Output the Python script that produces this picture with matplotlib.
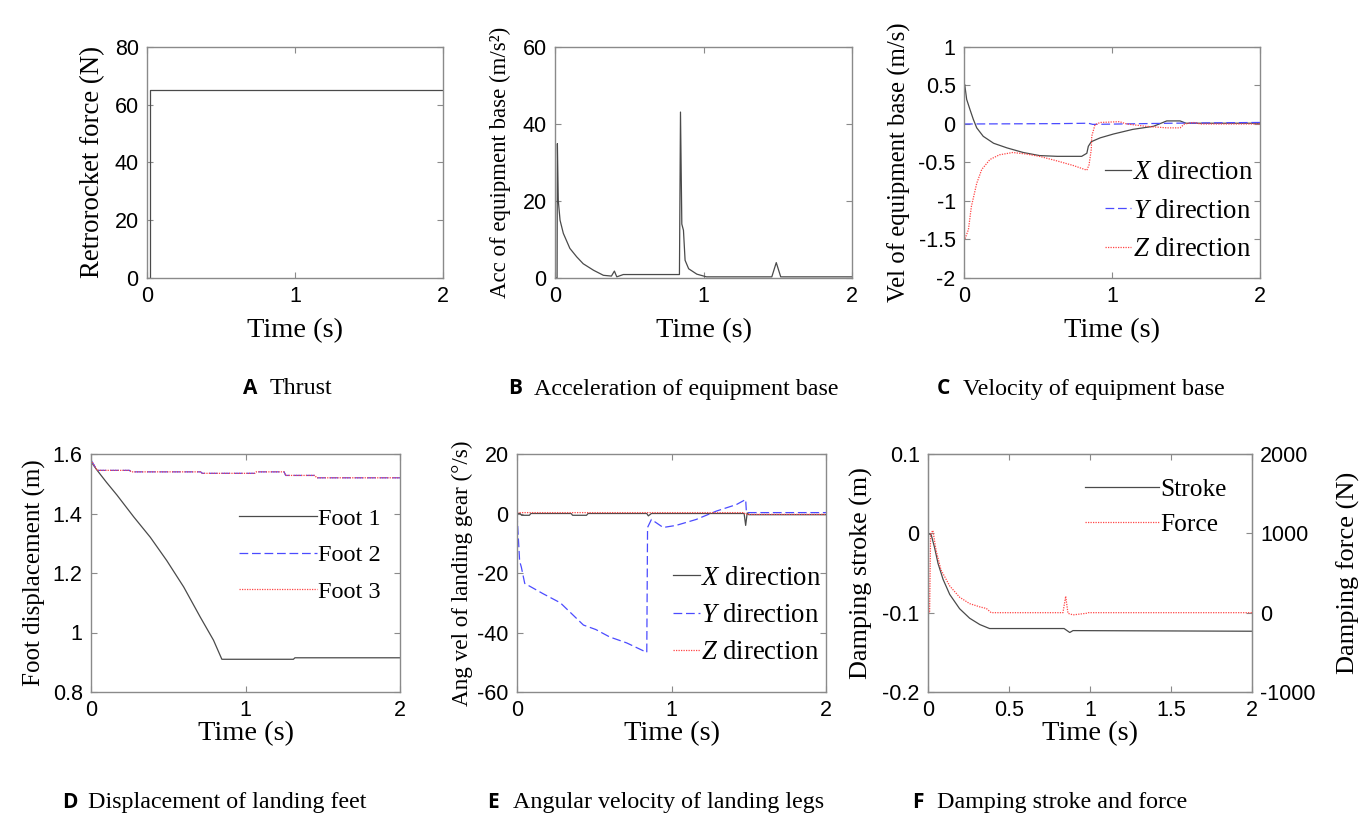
import matplotlib
matplotlib.use("Agg")
import matplotlib.pyplot as plt
from matplotlib.ticker import FuncFormatter

plt.rcParams['font.family'] = 'Liberation Sans'
plt.rcParams['axes.unicode_minus'] = False
plt.rcParams['mathtext.fontset'] = 'custom'
plt.rcParams['mathtext.rm'] = 'Liberation Serif'
plt.rcParams['mathtext.it'] = 'Liberation Serif:italic'

# ---- data ----
# A: thrust
tA = [0, 0.02, 0.02, 2.0]
fA = [0, 0, 65, 65]

# B: acceleration of equipment base
tB = [0, 0.014, 0.016, 0.022, 0.034, 0.056, 0.10, 0.146, 0.19, 0.26, 0.326,
      0.38, 0.40, 0.416, 0.46, 0.838, 0.845, 0.854, 0.865, 0.876, 0.90, 0.955,
      1.02, 1.46, 1.49, 1.52, 2.0]
aB = [0, 0, 34.9, 20.2, 15, 11.6, 7.7, 5.5, 3.7, 2.0, 0.7,
      0.5, 1.8, 0.3, 0.9, 0.9, 43.1, 14, 12.4, 4.6, 2.4, 1.0,
      0.3, 0.3, 4.0, 0.3, 0.3]

# C: velocity of equipment base
tCx = [0.005, 0.018, 0.04, 0.063, 0.086, 0.13, 0.2, 0.29, 0.4, 0.51, 0.63,
       0.795, 0.83, 0.84, 0.86, 0.92, 1.01, 1.14, 1.28, 1.37, 1.46, 1.5, 2.0]
vCx = [0.51, 0.32, 0.19, 0.06, -0.05, -0.16, -0.25, -0.31, -0.37, -0.41, -0.42,
       -0.42, -0.38, -0.29, -0.23, -0.18, -0.13, -0.07, -0.03, 0.04, 0.04, 0.01, 0.01]
tCy = [0, 0.65, 0.84, 0.87, 1.4, 2.0]
vCy = [0, 0.005, 0.01, -0.005, 0.01, 0.02]
tCz = [0.007, 0.03, 0.05, 0.086, 0.12, 0.176, 0.24, 0.33, 0.42, 0.51, 0.63,
       0.74, 0.83, 0.845, 0.86, 0.863, 0.885, 0.92, 1.05, 1.1, 1.23, 1.37,
       1.46, 1.49, 1.55, 1.6, 2.0]
vCz = [-1.49, -1.37, -1.07, -0.77, -0.59, -0.46, -0.40, -0.37, -0.39, -0.42, -0.48,
       -0.54, -0.60, -0.53, -0.33, -0.16, -0.01, 0.02, 0.03, 0.0, -0.03, -0.05,
       -0.05, 0.0, 0.02, 0.0, 0.0]

# D: displacement of landing feet
tD1 = [0, 0.04, 0.1, 0.168, 0.276, 0.384, 0.49, 0.6, 0.707, 0.793, 0.847,
       1.31, 1.32, 2.0]
vD1 = [1.574, 1.545, 1.505, 1.462, 1.389, 1.32, 1.242, 1.153, 1.052, 0.974, 0.91,
       0.91, 0.915, 0.915]
tD2 = [0, 0.04, 0.25, 0.26, 0.71, 0.72, 1.06, 1.07, 1.25, 1.26, 1.45, 1.46, 2.0]
vD2 = [1.58, 1.545, 1.545, 1.54, 1.54, 1.535, 1.535, 1.54, 1.54, 1.528, 1.528, 1.52, 1.52]
vD3 = [1.58, 1.545, 1.545, 1.54, 1.54, 1.535, 1.535, 1.54, 1.54, 1.528, 1.528, 1.52, 1.52]

# E: angular velocity of landing legs
tEx = [0, 0.02, 0.03, 0.08, 0.09, 0.35, 0.36, 0.45, 0.46, 0.84, 0.85, 0.87,
       1.47, 1.48, 1.49, 1.5, 2.0]
vEx = [0, 0, -0.6, -0.6, 0, 0, -0.6, -0.6, 0, 0, -0.8, 0,
       0, -4, 0.2, -0.4, -0.4]
tEy = [0, 0.017, 0.028, 0.05, 0.17, 0.28, 0.38, 0.43, 0.51, 0.6, 0.71, 0.84,
       0.845, 0.87, 0.946, 1.03, 1.16, 1.29, 1.42, 1.48, 1.485, 2.0]
vEy = [0, -16, -18, -23.5, -27, -30, -35, -37.5, -39, -41.5, -43.5, -46.7,
       -4.7, -2, -4.7, -4, -2, 0.8, 3, 4.7, 0.3, 0.3]
tEz = [0, 1.47, 1.48, 2.0]
vEz = [0.3, 0.3, -0.3, -0.3]

# F: damping stroke and force
tFs = [0, 0.02, 0.04, 0.062, 0.093, 0.134, 0.195, 0.257, 0.32, 0.38, 0.84,
       0.875, 0.895, 2.0]
vFs = [0, -0.002, -0.0175, -0.038, -0.058, -0.077, -0.095, -0.107, -0.115, -0.12, -0.12,
       -0.125, -0.1226, -0.1234]
tFf = [0, 0.01, 0.016, 0.03, 0.05, 0.08, 0.134, 0.195, 0.257, 0.32, 0.36, 0.39,
       0.833, 0.85, 0.864, 0.895, 0.977, 0.99, 2.0]
vFf = [0, 0, 990, 1037, 785, 540, 337, 195, 114, 73, 53, 0,
       0, 207, -8, -28, -8, 0, 0]

dir_labels = [r'$X\ \mathrm{direction}$', r'$Y\ \mathrm{direction}$',
              r'$Z\ \mathrm{direction}$']
captions = [("A", "Thrust"), ("B", "Acceleration of equipment base"),
            ("C", "Velocity of equipment base"), ("D", "Displacement of landing feet"),
            ("E", "Angular velocity of landing legs"), ("F", "Damping stroke and force")]

# ---- styling ----
W, H = 1366, 822
BLK = '#4a4a4a'
BLU = '#4b4bff'
RED = '#ff4545'
SPINE = '#8a8a8a'
SERIF = 'Liberation Serif'
XLAB = 20.5
TICK = 15.5
fmt = FuncFormatter(lambda v, p: '%g' % round(v, 6))


def px_axes(fig, l, t, r, b):
    return fig.add_axes([l / W, 1 - b / H, (r - l) / W, (b - t) / H])


def style(ax, ylabel, ysize, xpad, ypad, right=True):
    for s in ax.spines.values():
        s.set_color(SPINE)
        s.set_linewidth(1.0)
    ax.tick_params(direction='in', top=True, right=right, length=4,
                   color=SPINE, labelsize=TICK, pad=6)
    ax.xaxis.set_major_formatter(fmt)
    ax.yaxis.set_major_formatter(fmt)
    ax.set_xlim(0, 2)
    ax.set_xlabel('Time (s)', family=SERIF, fontsize=XLAB, labelpad=xpad)
    ax.set_ylabel(ylabel, family=SERIF, fontsize=ysize, labelpad=ypad)


def legend(ax, handles, x, y, hl, size, sp):
    ax.legend(handles=handles, loc='upper left', bbox_to_anchor=(x, y),
              frameon=False, prop={'family': SERIF, 'size': size},
              handlelength=hl, handletextpad=0.05, labelspacing=sp,
              borderpad=0, borderaxespad=0)


fig = plt.figure(figsize=(13.66, 8.22), dpi=100)

# A
ax = px_axes(fig, 147, 47, 443, 278)
ax.plot(tA, fA, color=BLK, lw=0.9)
ax.set_ylim(0, 80)
ax.set_yticks([0, 20, 40, 60, 80])
ax.set_xticks([0, 1, 2])
style(ax, 'Retrorocket force (N)', 19.4, 8, 6.6)

# B
ax = px_axes(fig, 555, 47, 852, 278)
ax.plot(tB, aB, color=BLK, lw=0.9)
ax.set_ylim(0, 60)
ax.set_yticks([0, 20, 40, 60])
ax.set_xticks([0, 1, 2])
style(ax, 'Acc of equipment base (m/s²)', 16.5, 8, 8)

# C
ax = px_axes(fig, 964, 47, 1260, 278)
hx, = ax.plot(tCx, vCx, color=BLK, lw=0.9, label=dir_labels[0])
hy, = ax.plot(tCy, vCy, color=BLU, lw=0.9, ls=(0, (7, 3)), label=dir_labels[1])
hz, = ax.plot(tCz, vCz, color=RED, lw=0.9, ls=(0, (1, 1)), label=dir_labels[2])
ax.set_ylim(-2, 1)
ax.set_yticks([-2, -1.5, -1, -0.5, 0, 0.5, 1])
ax.set_xticks([0, 1, 2])
style(ax, 'Vel of equipment base (m/s)', 17.8, 8, 5)
legend(ax, [hx, hy, hz], 0.475, 0.51, 1.0, 19.3, 0.5)

# D
ax = px_axes(fig, 91, 454, 400, 692)
h1, = ax.plot(tD1, vD1, color=BLK, lw=0.9, label='Foot 1')
h2, = ax.plot(tD2, vD2, color=BLU, lw=0.9, ls=(0, (7, 3)), label='Foot 2')
h3, = ax.plot(tD2, vD3, color=RED, lw=0.9, ls=(0, (1, 1)), label='Foot 3')
ax.set_ylim(0.8, 1.6)
ax.set_yticks([0.8, 1.0, 1.2, 1.4, 1.6])
ax.set_xticks([0, 1, 2])
style(ax, 'Foot displacement (m)', 18, 0, 5)
legend(ax, [h1, h2, h3], 0.48, 0.775, 3.2, 17.5, 0.6)

# E
ax = px_axes(fig, 517, 454, 826, 692)
hy, = ax.plot(tEy, vEy, color=BLU, lw=0.9, ls=(0, (7, 3)), label=dir_labels[1])
hx, = ax.plot(tEx, vEx, color=BLK, lw=0.9, label=dir_labels[0])
hz, = ax.plot(tEz, vEz, color=RED, lw=0.9, ls=(0, (1, 1)), label=dir_labels[2])
ax.set_ylim(-60, 20)
ax.set_yticks([-60, -40, -20, 0, 20])
ax.set_xticks([0, 1, 2])
style(ax, 'Ang vel of landing gear (°/s)', 16.7, 0, 3)
legend(ax, [hx, hy, hz], 0.505, 0.53, 1.0, 19.3, 0.45)

# F
ax = px_axes(fig, 928, 454, 1252, 692)
hs, = ax.plot(tFs, vFs, color=BLK, lw=0.9, label='Stroke')
ax.set_ylim(-0.2, 0.1)
ax.set_yticks([-0.2, -0.1, 0, 0.1])
ax.set_xticks([0, 0.5, 1, 1.5, 2])
style(ax, 'Damping stroke (m)', 18.8, 0, 6.6, right=False)
ax2 = ax.twinx()
hf, = ax2.plot(tFf, vFf, color=RED, lw=0.9, ls=(0, (1, 1)), label='Force')
ax2.set_ylim(-1000, 2000)
ax2.set_yticks([-1000, 0, 1000, 2000])
for s in ax2.spines.values():
    s.set_color(SPINE)
ax2.tick_params(direction='in', length=4, color=SPINE, labelsize=TICK, pad=6)
ax2.yaxis.set_major_formatter(fmt)
ax2.set_ylabel('Damping force (N)', family=SERIF, fontsize=19, labelpad=15)
legend(ax2, [hs, hf], 0.485, 0.90, 2.9, 18.3, 0.5)

# captions
cap_pos = [(243, 270, 389), (508, 534, 389), (937, 963, 389),
           (62, 88, 802), (487, 513, 802), (912, 937, 802)]
for (letter, text), (xl, xt, yc) in zip(captions, cap_pos):
    fig.text(xl / W, 1 - yc / H, letter, family='Open Sans', weight='bold',
             fontsize=15, va='center', ha='left')
    fig.text(xt / W, 1 - yc / H, text, family=SERIF, fontsize=17.3,
             va='center', ha='left')

fig.savefig('out.png', dpi=100)
